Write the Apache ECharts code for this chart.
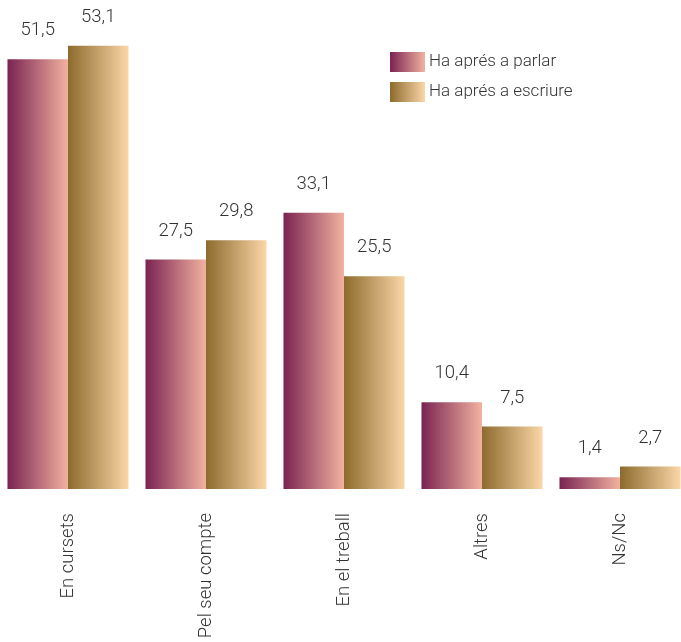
<!DOCTYPE html>
<html>
<head>
<meta charset="utf-8">
<script src="https://cdn.jsdelivr.net/npm/echarts@6/dist/echarts.min.js"></script>
<style>html,body{margin:0;padding:0;background:#fff;}#c{width:681px;height:642px;}</style>
</head>
<body>
<div id="c"></div>
<script>
const categories = ['En cursets', 'Pel seu compte', 'En el treball', 'Altres', 'Ns/Nc'];
const parlar = [51.5, 27.5, 33.1, 10.4, 1.4];
const escriure = [53.1, 29.8, 25.5, 7.5, 2.7];
const seriesNames = ['Ha aprés a parlar', 'Ha aprés a escriure'];

function grad(a, b) {
  return new echarts.graphic.LinearGradient(0, 0, 1, 0, [{offset: 0, color: a}, {offset: 1, color: b}]);
}
const fmt = p => String(p.value).replace('.', ',');
const labelStyle = {show: true, position: 'top', distance: 19, formatter: fmt,
  fontFamily: 'Roboto', fontWeight: 300, fontSize: 18.5, color: '#333'};

const chart = echarts.init(document.getElementById('c'));
chart.setOption({
  animation: false,
  legend: {
    left: 385, top: 47, orient: 'vertical', itemWidth: 35, itemHeight: 20, itemGap: 10, icon: 'rect',
    textStyle: {fontFamily: 'Roboto', fontWeight: 300, fontSize: 17, color: '#333', padding: [0,0,0,-1]},
    data: seriesNames
  },
  grid: {left: -1, width: 690, top: 30, bottom: 153, containLabel: false, outerBoundsMode: 'none'},
  xAxis: {
    type: 'category', data: categories,
    axisLine: {show: false}, axisTick: {show: false},
    axisLabel: {rotate: 90, margin: 24, fontFamily: 'Roboto', fontWeight: 300, fontSize: 18.5, color: '#333'}
  },
  yAxis: {type: 'value', min: 0, max: 55, show: false, splitLine: {show: false}},
  series: [
    {name: seriesNames[0], type: 'bar', data: parlar, barGap: '0%', barCategoryGap: '12.3%',
     itemStyle: {color: grad('#7a2352', '#f2b2a0')}, label: labelStyle},
    {name: seriesNames[1], type: 'bar', data: escriure,
     itemStyle: {color: grad('#8d6b2d', '#fbd6a8')}, label: labelStyle}
  ]
});
</script>
</body>
</html>
